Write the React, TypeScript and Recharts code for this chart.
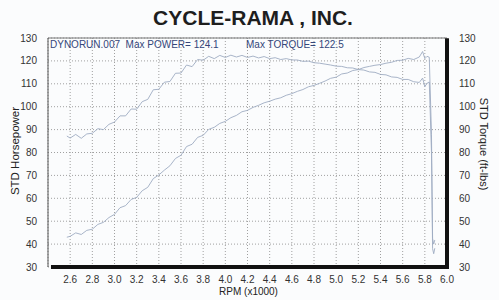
import React from 'react';
import { LineChart, Line, XAxis, YAxis, CartesianGrid, ReferenceLine } from 'recharts';

const rpm = [
  2.57, 2.6, 2.65, 2.7, 2.75, 2.8, 2.85, 2.9, 2.95, 3.0, 3.05, 3.1, 3.15, 3.2, 3.25, 3.3, 3.35, 3.4, 3.45, 3.5,
  3.55, 3.6, 3.65, 3.7, 3.75, 3.8, 3.85, 3.9, 3.95, 4.0, 4.05, 4.1, 4.15, 4.2, 4.25, 4.3, 4.35, 4.4, 4.45, 4.5,
  4.55, 4.6, 4.65, 4.7, 4.75, 4.8, 4.85, 4.9, 4.95, 5.0, 5.05, 5.1, 5.15, 5.2, 5.25, 5.3, 5.35, 5.4, 5.45, 5.5,
  5.55, 5.6, 5.65, 5.7, 5.75, 5.78, 5.8, 5.82, 5.84, 5.86, 5.87, 5.88, 5.89,
];

const power = [
  43.0, 43.4, 44.9, 44.2, 46.0, 46.5, 48.6, 49.5, 51.6, 53.0, 55.9, 56.8, 59.5, 60.4, 63.3, 64.8, 68.6, 70.2, 72.3, 74.2,
  77.4, 78.8, 82.6, 83.6, 86.6, 87.5, 90.1, 91.0, 92.7, 93.6, 95.2, 96.2, 97.8, 98.4, 99.7, 100.6, 101.7, 102.4, 103.3, 103.9,
  105.0, 105.7, 106.7, 107.5, 108.7, 109.3, 110.2, 111.2, 112.4, 112.9, 114.3, 114.7, 115.8, 116.2, 117.1, 117.6, 118.1, 118.4, 119.0, 119.4,
  120.2, 120.3, 121.1, 120.6, 121.7, 124.1, 121.0, 122.0, 121.6, 88.0, 42.5, 40.0, 41.8,
];

const torque = [
  87.2, 86.3, 87.9, 86.2, 88.1, 88.4, 90.4, 90.0, 92.3, 93.3, 96.0, 96.0, 99.0, 98.9, 102.2, 103.2, 107.4, 107.6, 110.7, 111.0,
  114.6, 114.7, 118.2, 117.5, 120.6, 120.3, 122.0, 121.0, 122.4, 121.5, 122.5, 121.7, 122.4, 121.5, 122.1, 121.3, 121.9, 121.0, 121.4, 120.6,
  121.0, 120.4, 120.4, 119.8, 119.9, 119.2, 119.0, 118.6, 118.2, 117.7, 117.6, 117.0, 116.9, 116.2, 116.0, 115.2, 115.0, 114.1, 113.9, 113.0,
  112.8, 111.9, 111.9, 110.9, 110.6, 112.5, 108.8, 110.2, 110.8, 80.0, 38.0, 35.8, 38.2,
];

const xTicks = [2.6, 2.8, 3.0, 3.2, 3.4, 3.6, 3.8, 4.0, 4.2, 4.4, 4.6, 4.8, 5.0, 5.2, 5.4, 5.6, 5.8, 6.0];
const yTicks = [30, 40, 50, 60, 70, 80, 90, 100, 110, 120, 130];
const xDomain = [2.4, 6.0];
const yDomain = [30, 130];
const xMinorTicks = Array.from({ length: 89 }, (_, i) => Math.round((2.44 + i * 0.04) * 100) / 100);
const yMinorTicks = Array.from({ length: 49 }, (_, i) => 32 + i * 2);

const title = 'CYCLE-RAMA , INC.';
const runLabel = 'DYNORUN.007\u00a0\u00a0Max POWER= 124.1';
const torqueLabel = 'Max TORQUE= 122.5';
const xLabel = 'RPM (x1000)';
const leftLabel = 'STD Horsepower';
const rightLabel = 'STD Torque (ft-lbs)';

const data = rpm.map((r, i) => ({ rpm: r, power: power[i], torque: torque[i] }));

const FONT = '"Liberation Sans", Arial, sans-serif';
const LINE = '#9eabc2';
const TICK = { fontSize: 10, fill: '#333', fontFamily: FONT };

export default function App() {
  return (
    <div style={{ position: 'absolute', left: 0, top: 0, width: 499, height: 300, background: '#fbfcfd' }}>
      <LineChart width={499} height={300} data={data} margin={{ top: 38, right: 0, bottom: 0, left: 0 }}>
        <CartesianGrid xAxisId="x" yAxisId="l" stroke="#a0a0a0" strokeDasharray="1 2" />
        <XAxis xAxisId="xm" type="number" dataKey="rpm" domain={xDomain} ticks={xMinorTicks} interval={0}
          mirror height={1} tick={false} tickSize={3} axisLine={false} tickLine={{ stroke: '#888' }} allowDataOverflow />
        <XAxis xAxisId="x" type="number" dataKey="rpm" domain={xDomain} ticks={xTicks} interval={0}
          tickFormatter={(v: number) => v.toFixed(1)}
          height={33} tickLine={false} axisLine={false} tickSize={6} tickMargin={3} tick={TICK} allowDataOverflow />
        <YAxis yAxisId="lm" orientation="left" domain={yDomain} ticks={yMinorTicks} interval={0} mirror width={1}
          tick={false} tickSize={3} axisLine={false} tickLine={{ stroke: '#888' }} allowDataOverflow />
        <YAxis yAxisId="rm" orientation="right" domain={yDomain} ticks={yMinorTicks} interval={0} mirror width={1}
          tick={false} tickSize={3} axisLine={false} tickLine={{ stroke: '#888' }} allowDataOverflow />
        <YAxis yAxisId="l" orientation="left" domain={yDomain} ticks={yTicks} interval={0} width={48}
          tickLine={false} axisLine={{ stroke: '#555' }} tickSize={6} tickMargin={5} tick={TICK} allowDataOverflow />
        <YAxis yAxisId="r" orientation="right" domain={yDomain} ticks={yTicks} interval={0} width={52}
          tickLine={false} axisLine={false} tickSize={6} tickMargin={6} tick={TICK} allowDataOverflow />
        <ReferenceLine xAxisId="x" yAxisId="l" y={130} stroke="#777" strokeWidth={1} />
        <Line xAxisId="x" yAxisId="l" type="linear" dataKey="power" stroke={LINE} strokeWidth={0.9} dot={false} isAnimationActive={false} />
        <Line xAxisId="x" yAxisId="r" type="linear" dataKey="torque" stroke={LINE} strokeWidth={0.9} dot={false} isAnimationActive={false} />
        <ReferenceLine xAxisId="x" yAxisId="l" segment={[{ x: 2.445, y: 30 }, { x: 6.0, y: 30 }]} stroke="#111" strokeWidth={4} strokeLinecap="square" />
        <ReferenceLine xAxisId="x" yAxisId="l" segment={[{ x: 6.0, y: 129 }, { x: 6.0, y: 30 }]} stroke="#111" strokeWidth={4} strokeLinecap="square" />
      </LineChart>
      <svg width={499} height={300} style={{ position: 'absolute', left: 0, top: 0, pointerEvents: 'none' }}>
        <text x={253} y={25} textAnchor="middle" fontFamily={FONT} fontWeight="bold" fontSize={21} fill="#1e1e1e">{title}</text>
        <text x={50} y={47.5} fontFamily={FONT} fontSize={10} fill="#34467a">{runLabel}</text>
        <text x={246} y={47.5} fontFamily={FONT} fontSize={10} fill="#34467a">{torqueLabel}</text>
        <text x={248.5} y={295} textAnchor="middle" fontFamily={FONT} fontSize={10} fill="#222">{xLabel}</text>
        <text x={19} y={151} textAnchor="middle" fontFamily={FONT} fontSize={11.5} fill="#222" transform="rotate(-90 19 151)">{leftLabel}</text>
        <text x={479.5} y={144} textAnchor="middle" fontFamily={FONT} fontSize={11} fill="#222" transform="rotate(90 479.5 144)">{rightLabel}</text>
      </svg>
    </div>
  );
}
